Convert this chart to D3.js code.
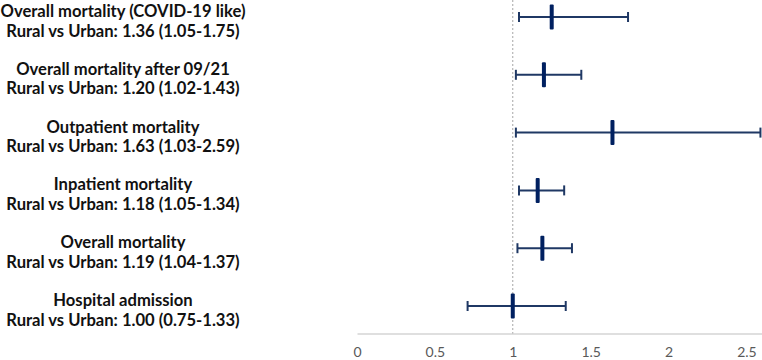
<!DOCTYPE html>
<html>
<head>
<meta charset="utf-8">
<script src="https://cdn.jsdelivr.net/npm/d3@7"></script>
<style>
  body { margin: 0; background: #fff; }
  svg { display: block; }
</style>
</head>
<body>
<svg id="chart"></svg>
<script>
// outcomes, top to bottom
const titles = [
    "Overall mortality (COVID-19 like)",
    "Overall mortality after 09/21",
    "Outpatient mortality",
    "Inpatient mortality",
    "Overall mortality",
    "Hospital admission"
];
const statLines = [
    "Rural vs Urban: 1.36 (1.05-1.75)",
    "Rural vs Urban: 1.20 (1.02-1.43)",
    "Rural vs Urban: 1.63 (1.03-2.59)",
    "Rural vs Urban: 1.18 (1.05-1.34)",
    "Rural vs Urban: 1.19 (1.04-1.37)",
    "Rural vs Urban: 1.00 (0.75-1.33)"
];
// values as drawn in the picture
const estimate = [1.25, 1.20, 1.64, 1.16, 1.19, 1.00];
const lower = [1.04, 1.02, 1.02, 1.04, 1.03, 0.71];
const upper = [1.74, 1.44, 2.59, 1.33, 1.38, 1.34];
const ticks = [0, 0.5, 1, 1.5, 2, 2.5];

const width = 762, height = 360;
const navy = "#1f3864";

const svg = d3.select("#chart")
    .attr("width", width)
    .attr("height", height);

const rows = titles.map((t, i) => ({ title: t, stat: statLines[i], est: estimate[i], lo: lower[i], hi: upper[i] }));

const xscale = d3.scaleLinear()
    .domain([0, 2.6])
    .range([357, 762]);

const yscale = d3.scalePoint()
    .domain(titles)
    .range([17, 306]);

const axisY = 333.5;

// axis
const xaxis = d3.axisBottom(xscale)
    .tickValues(ticks)
    .tickFormat(d => d)
    .tickSize(0)
    .tickSizeOuter(0)
    .tickPadding(14);

const axisG = svg.append("g")
    .attr("transform", `translate(0, ${axisY})`)
    .call(xaxis);
axisG.select(".domain").attr("stroke", "#bfbfbf").attr("stroke-width", 1.2);
axisG.selectAll("text")
    .style("font-family", "Lato, 'Open Sans', sans-serif")
    .style("font-size", "14px")
    .attr("fill", "#595959");

// reference line at 1
svg.append("line")
    .attr("x1", xscale(1)).attr("x2", xscale(1))
    .attr("y1", 0).attr("y2", axisY)
    .attr("stroke", "#a6a6a6")
    .attr("stroke-width", 1)
    .attr("stroke-dasharray", "2,2");

// confidence intervals
const g = svg.append("g");
g.selectAll("line.ci")
    .data(rows)
    .join("line")
    .attr("class", "ci")
    .attr("x1", d => xscale(d.lo)).attr("x2", d => xscale(d.hi))
    .attr("y1", d => yscale(d.title)).attr("y2", d => yscale(d.title))
    .attr("stroke", navy).attr("stroke-width", 2);

g.selectAll("line.caplo")
    .data(rows)
    .join("line")
    .attr("class", "caplo")
    .attr("x1", d => xscale(d.lo)).attr("x2", d => xscale(d.lo))
    .attr("y1", d => yscale(d.title) - 5).attr("y2", d => yscale(d.title) + 5)
    .attr("stroke", navy).attr("stroke-width", 2);

g.selectAll("line.caphi")
    .data(rows)
    .join("line")
    .attr("class", "caphi")
    .attr("x1", d => xscale(d.hi)).attr("x2", d => xscale(d.hi))
    .attr("y1", d => yscale(d.title) - 5).attr("y2", d => yscale(d.title) + 5)
    .attr("stroke", navy).attr("stroke-width", 2);

g.selectAll("rect.est")
    .data(rows)
    .join("rect")
    .attr("class", "est")
    .attr("x", d => xscale(d.est) - 2)
    .attr("y", d => yscale(d.title) - 12.5)
    .attr("width", 4)
    .attr("height", 25)
    .attr("rx", 1)
    .attr("fill", "#002060");

// labels
const labels = svg.append("g")
    .style("font-family", "Lato, 'Open Sans', sans-serif")
    .style("font-weight", "700")
    .style("font-size", "16.6px")
    .attr("fill", "#111")
    .attr("text-anchor", "middle");

labels.selectAll("text.title")
    .data(rows)
    .join("text")
    .attr("class", "title")
    .attr("x", 123)
    .attr("y", d => yscale(d.title))
    .text(d => d.title);

labels.selectAll("text.stat")
    .data(rows)
    .join("text")
    .attr("class", "stat")
    .attr("x", 123)
    .attr("y", d => yscale(d.title) + 19.5)
    .text(d => d.stat);
</script>
</body>
</html>
